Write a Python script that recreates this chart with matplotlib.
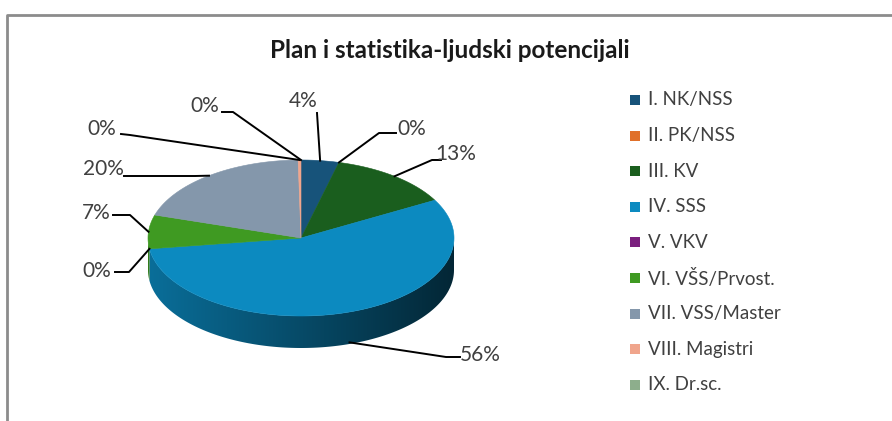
import numpy as np
import matplotlib.pyplot as plt
from matplotlib.patches import Polygon, Rectangle
from matplotlib.colors import to_rgb

# data
categories = ["I. NK/NSS", "II. PK/NSS", "III. KV", "IV. SSS", "V. VKV",
              "VI. VŠS/Prvost.", "VII. VSS/Master", "VIII. Magistri", "IX. Dr.sc."]
shares = [4, 0, 13, 56, 0, 7, 20, 0.3, 0]
pct_labels = ["4%", "0%", "13%", "56%", "0%", "7%", "20%", "0%", "0%"]
colors = ["#17537A", "#E0702A", "#1A5E1E", "#0C8AC0", "#7A1F7E",
          "#3F9A22", "#8497AB", "#F0A58C", "#8DAE8C"]

# layout (pixels)
W, H = 892, 421
cx, cy = 301, 238
rx, ry = 153, 78
depth = 32
label_xy = [(303, 101), (412, 129), (456, 154), (480, 355), (97, 271),
            (96, 213), (103, 169), (102, 129), (205, 106)]
leader_start = [(317, 113), (396, 133), (441, 160), (460, 357), (115, 272),
                (113, 215), (124, 176), (121, 134), (222, 112)]
leader_elbow = [(317, 113), (379, 133), (432, 160), (446, 357), (129, 272),
                (130, 215), (195, 176), (130, 135), (233, 112)]

FONT = "Lato"
fig = plt.figure(figsize=(W / 100, H / 100), dpi=100)
ax = fig.add_axes([0, 0, 1, 1])
ax.axis("off")

# chart frame (cut at right and bottom)
ax.plot([6.5, 6.5, W], [H, 14.5, 14.5], color="#8c8c8c", lw=2, solid_capstyle="butt")


def pt(theta_deg, dy=0.0):
    t = np.radians(theta_deg)
    return cx + rx * np.sin(t), cy - ry * np.cos(t) + dy


total = sum(shares)
bounds = np.concatenate([[0], np.cumsum(shares) / total * 360])

# side walls (front half only), shaded left -> right with a clipped gradient
xs = np.linspace(0, 1, 300)
shade = 0.80 - 0.52 * xs
for i, c in enumerate(colors):
    a0, a1 = max(bounds[i], 90), min(bounds[i + 1], 270)
    if a1 <= a0:
        continue
    base = np.array(to_rgb(c))
    grad = np.clip(shade[None, :, None] * base[None, None, :], 0, 1)
    arc = np.linspace(a0, a1, max(3, int(a1 - a0) * 2))
    poly = [pt(a) for a in arc] + [pt(a, depth) for a in arc[::-1]]
    clip = Polygon(poly, closed=True, fc="none", ec="none")
    ax.add_patch(clip)
    im = ax.imshow(grad, extent=(cx - rx, cx + rx, cy + ry + depth + 2, cy - 2),
                   aspect="auto", interpolation="bilinear")
    im.set_clip_path(clip)

# top face
for i, c in enumerate(colors):
    a0, a1 = bounds[i], bounds[i + 1]
    if a1 - a0 <= 0:
        continue
    arc = np.linspace(a0, a1, max(3, int((a1 - a0) * 2)))
    poly = [(cx, cy)] + [pt(a) for a in arc]
    ax.add_patch(Polygon(poly, closed=True, fc=c, ec=c, lw=0.4))

# labels with leader lines
for i, lab in enumerate(pct_labels):
    a0, a1 = bounds[i], bounds[i + 1]
    ang = (a0 + a1) / 2
    if i == 3:
        anchor = pt(ang, depth * 0.95)
    else:
        anchor = pt(ang)
    sx, sy = leader_start[i]
    ex, ey = leader_elbow[i]
    ax.plot([sx, ex, anchor[0]], [sy, ey, anchor[1]], color="black", lw=1.4)
    ax.text(label_xy[i][0], label_xy[i][1], lab, fontsize=15, family=FONT,
            color="#404040", ha="center", va="center")

# title
ax.text(450, 50, "Plan i statistika-ljudski potencijali", fontsize=17.5,
        family=FONT, fontweight="bold", color="#1a1a1a", ha="center", va="center")

# legend
for i, name in enumerate(categories):
    y = 100 + i * 35.6
    ax.add_patch(Rectangle((630, y - 5), 10, 10, fc=colors[i], ec="none"))
    ax.text(648, y, name, fontsize=13.5, family=FONT, color="#404040",
            ha="left", va="center")

ax.set_xlim(0, W)
ax.set_ylim(H, 0)
fig.savefig("out.png", dpi=100)
